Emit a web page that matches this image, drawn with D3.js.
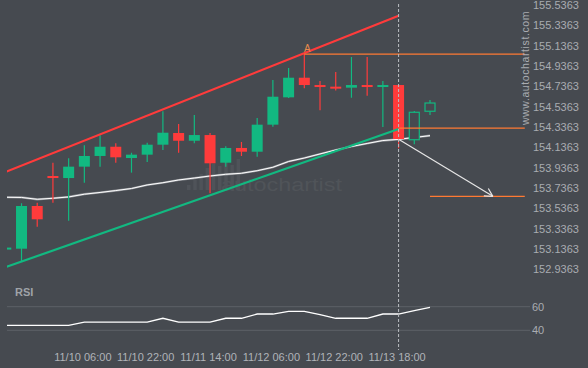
<!DOCTYPE html>
<html>
<head>
<meta charset="utf-8">
<script src="https://cdn.jsdelivr.net/npm/d3@7"></script>
<style>
  html, body { margin: 0; padding: 0; background: #464a50; }
  svg { display: block; font-family: "Liberation Sans", Arial, sans-serif; }
</style>
</head>
<body>
<script>
// candle values (4h bars)
var open  = [153.140, 153.139, 153.559, 153.854, 153.834, 153.946, 154.051, 154.142, 154.031, 154.064,
             154.162, 154.277, 154.201, 154.257, 153.985, 154.130, 154.093, 154.359, 154.628, 154.821,
             154.749, 154.733, 154.723, 154.749, 154.730, 154.749, 154.211, 154.491];
var high  = [153.150, 153.586, 153.591, 153.985, 154.028, 154.156, 154.254, 154.176, 154.083, 154.182,
             154.491, 154.366, 154.454, 154.277, 154.146, 154.189, 154.425, 154.799, 154.917, 155.054,
             154.789, 154.877, 155.025, 155.025, 154.789, 154.749, 154.494, 154.602];
var low   = [153.135, 153.015, 153.355, 153.591, 153.414, 153.788, 153.946, 153.985, 153.887, 153.992,
             154.110, 154.083, 154.176, 153.684, 153.946, 154.051, 154.044, 154.339, 154.621, 154.717,
             154.500, 154.695, 154.624, 154.644, 154.336, 154.127, 154.166, 154.454];
var close = [153.150, 153.559, 153.428, 153.834, 153.946, 154.051, 154.142, 154.038, 154.064, 154.162,
             154.280, 154.201, 154.257, 153.979, 154.130, 154.093, 154.359, 154.634, 154.821, 154.749,
             154.730, 154.717, 154.749, 154.730, 154.749, 154.218, 154.481, 154.572];
var hollow = [26, 27]; // bars still forming

var ma = [153.645, 153.643, 153.625, 153.635, 153.648, 153.675, 153.692, 153.711, 153.731, 153.766,
          153.788, 153.815, 153.834, 153.854, 153.871, 153.881, 153.906, 153.940, 153.997, 154.031,
          154.071, 154.110, 154.144, 154.174, 154.203, 154.215, 154.233, 154.251];

var rsi = [44.2, 44.2, 44.2, 44.2, 44.2, 47.0, 47.0, 47.0, 47.0, 47.0,
           50.2, 47.0, 47.0, 47.0, 50.2, 50.2, 53.8, 53.8, 56.1, 56.1,
           53.2, 50.2, 50.2, 50.2, 53.8, 53.8, 56.6, 59.5];

var priceTicks = [155.5363, 155.3363, 155.1363, 154.9363, 154.7363, 154.5363, 154.3363,
                  154.1363, 153.9363, 153.7363, 153.5363, 153.3363, 153.1363, 152.9363];
var rsiTicks = [60, 40];
var timeLabels = ["11/10 06:00", "11/10 22:00", "11/11 14:00", "11/12 06:00", "11/12 22:00", "11/13 18:00"];
var timeLabelIdx = [5, 9, 13, 17, 21, 25];

// pattern: channel lines [index, price]
var upperLine = [[0, 153.895], [25, 155.431]];
var lowerLine = [[0, 152.958], [25, 154.316]];
// levels [fromIndex, toIndex, price]
var levels = [[19, 33, 155.054], [25, 33, 154.326], [27, 33, 153.654]];
var forecast = [[25, 154.215], [31, 153.654]];
var wmBars = [5, 10, 16, 22, 26, 24, 29, 25, 31];

var W = 588, H = 368;
var green = "#12b981", red = "#ff3b3b", orange = "#ff7a33";

var x = d3.scaleLinear().domain([0, 27]).range([5.8, 430]);
var y = d3.scaleLinear().domain([152.9363, 155.5363]).range([269.3, 5]);
var yr = d3.scaleLinear().domain([40, 60]).range([330.3, 306.7]);

var svg = d3.select("body").append("svg").attr("width", W).attr("height", H);
svg.append("rect").attr("width", W).attr("height", H).attr("fill", "#464a50");

var defs = svg.append("defs");
defs.append("clipPath").attr("id", "plot")
  .append("rect").attr("x", 7).attr("y", 0).attr("width", 523).attr("height", 275);
defs.append("clipPath").attr("id", "plotR")
  .append("rect").attr("x", 7).attr("y", 280).attr("width", 523).attr("height", 70);

var g = svg.append("g").attr("clip-path", "url(#plot)");

// watermark
var wm = g.append("g");
wm.selectAll("rect").data(wmBars).enter().append("rect")
  .attr("x", function (d, i) { return 187 + i * 6.2; })
  .attr("y", function (d) { return 190 - d; })
  .attr("width", 3.5)
  .attr("height", function (d) { return d; })
  .attr("fill", "#4f5359");
wm.append("text").attr("x", 221).attr("y", 191)
  .attr("textLength", 121).attr("lengthAdjust", "spacingAndGlyphs")
  .attr("font-size", 18).attr("fill", "#505459").text("autochartist");

// moving average
var maLine = d3.line().x(function (d, i) { return x(i); }).y(function (d) { return y(d); });
g.append("path").datum(ma).attr("d", maLine).attr("fill", "none")
  .attr("stroke", "#8d9095").attr("stroke-width", 2.2);
g.append("path").datum(ma).attr("d", maLine).attr("fill", "none")
  .attr("stroke", "#ffffff").attr("stroke-width", 1);

// candles
var idx = d3.range(open.length);
var candles = g.selectAll(".candle").data(idx).enter().append("g").attr("class", "candle");
candles.each(function (i) {
  var c = d3.select(this);
  var up = close[i] >= open[i];
  var col = up ? green : red;
  var top = y(Math.max(open[i], close[i])), bot = y(Math.min(open[i], close[i]));
  var bh = Math.max(bot - top, 2);
  var isHollow = hollow.indexOf(i) >= 0;
  c.append("line").attr("x1", x(i)).attr("x2", x(i))
    .attr("y1", y(high[i])).attr("y2", isHollow ? top : y(low[i]))
    .attr("stroke", col).attr("stroke-width", 1.2);
  if (isHollow) {
    c.append("line").attr("x1", x(i)).attr("x2", x(i))
      .attr("y1", bot).attr("y2", y(low[i]))
      .attr("stroke", col).attr("stroke-width", 1.2);
    c.append("rect").attr("x", x(i) - 5).attr("y", top).attr("width", 10).attr("height", bh)
      .attr("fill", "#464a50").attr("stroke", col).attr("stroke-width", 1.2);
  } else {
    c.append("rect").attr("x", x(i) - 5.5).attr("y", top).attr("width", 11).attr("height", bh)
      .attr("fill", col);
  }
});

// channel
var pLine = d3.line().x(function (d) { return x(d[0]); }).y(function (d) { return y(d[1]); });
g.append("path").datum(upperLine).attr("d", pLine).attr("stroke", red).attr("stroke-width", 2.2);
g.append("path").datum(lowerLine).attr("d", pLine).attr("stroke", green).attr("stroke-width", 2.2);

// levels
g.selectAll(".lvl").data(levels).enter().append("line").attr("class", "lvl")
  .attr("x1", function (d) { return x(d[0]); })
  .attr("x2", function (d) { return x(d[1]) + 0.5; })
  .attr("y1", function (d) { return y(d[2]); })
  .attr("y2", function (d) { return y(d[2]); })
  .attr("stroke", orange).attr("stroke-width", 1.3);

g.append("text").attr("x", x(19) + 3).attr("y", y(high[19]) - 2)
  .attr("text-anchor", "middle").attr("font-size", 10).attr("fill", "#e88a4c").text("A");

// forecast arrow
var ax0 = x(forecast[0][0]), ay0 = y(forecast[0][1]);
var ax1 = x(forecast[1][0]), ay1 = y(forecast[1][1]);
var ang = Math.atan2(ay1 - ay0, ax1 - ax0);
g.append("line").attr("x1", ax0).attr("y1", ay0).attr("x2", ax1).attr("y2", ay1)
  .attr("stroke", "#e6e6e6").attr("stroke-width", 1.2);
[-0.5, 0.5].forEach(function (da) {
  g.append("line").attr("x1", ax1).attr("y1", ay1)
    .attr("x2", ax1 - 9 * Math.cos(ang + da)).attr("y2", ay1 - 9 * Math.sin(ang + da))
    .attr("stroke", "#e6e6e6").attr("stroke-width", 1.2);
});

// price axis
svg.selectAll(".ptick").data(priceTicks).enter().append("text").attr("class", "ptick")
  .attr("x", 533).attr("y", function (d) { return y(d) + 4; })
  .attr("font-size", 11).attr("fill", "#a9acb1")
  .text(function (d) { return d.toFixed(4); });

svg.append("text").attr("transform", "translate(529,68) rotate(-90)")
  .attr("text-anchor", "middle").attr("font-size", 10.5).attr("fill", "#a9acb1")
  .attr("letter-spacing", 0.6).text("www.autochartist.com");

// RSI panel
svg.append("text").attr("x", 15).attr("y", 295.5).attr("font-size", 11)
  .attr("font-weight", "bold").attr("fill", "#9fa3a8").text("RSI");
svg.selectAll(".rgrid").data(rsiTicks).enter().append("line").attr("class", "rgrid")
  .attr("x1", 7).attr("x2", 530)
  .attr("y1", function (d) { return yr(d); }).attr("y2", function (d) { return yr(d); })
  .attr("stroke", "#5d6167").attr("stroke-width", 1);
svg.selectAll(".rtick").data(rsiTicks).enter().append("text").attr("class", "rtick")
  .attr("x", 532).attr("y", function (d) { return yr(d) + 4; })
  .attr("font-size", 11).attr("fill", "#a9acb1").text(function (d) { return d; });

var rsiLine = d3.line().x(function (d, i) { return x(i); }).y(function (d) { return yr(d); });
svg.append("path").datum(rsi).attr("d", rsiLine).attr("clip-path", "url(#plotR)")
  .attr("fill", "none").attr("stroke", "#ffffff").attr("stroke-width", 1.3);

// current bar marker
svg.append("line").attr("x1", x(25)).attr("x2", x(25)).attr("y1", 4).attr("y2", 350)
  .attr("stroke", "#b9bcc0").attr("stroke-width", 1).attr("stroke-dasharray", "3,2");

// time axis
svg.selectAll(".xlab").data(timeLabelIdx).enter().append("text").attr("class", "xlab")
  .attr("x", function (d) { return x(d) - 1.5; }).attr("y", 360.5)
  .attr("text-anchor", "middle").attr("font-size", 11).attr("fill", "#b0b3b8")
  .text(function (d, i) { return timeLabels[i]; });
</script>
</body>
</html>
